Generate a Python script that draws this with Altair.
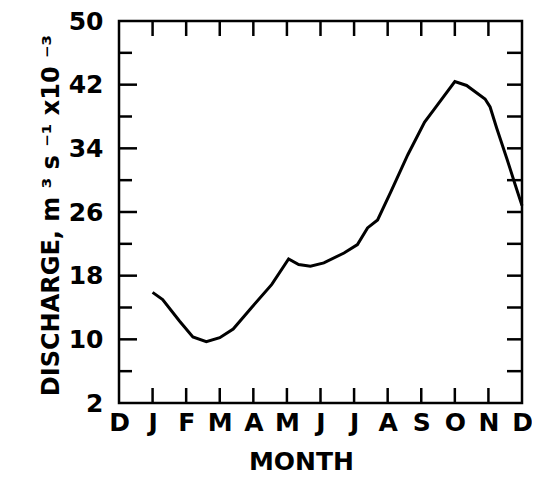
import altair as alt
import pandas as pd

# Data
month_pos = [1.0, 1.3, 1.8, 2.2, 2.6, 3.0, 3.4, 3.95, 4.55, 5.05, 5.35, 5.7, 6.1,
             6.7, 7.1, 7.4, 7.7, 8.1, 8.6, 9.1, 9.4, 10.0, 10.35, 10.9, 11.05,
             11.25, 11.55, 11.8, 12.0]
discharge = [15.9, 15.0, 12.3, 10.3, 9.7, 10.2, 11.3, 14.0, 16.9, 20.1, 19.4, 19.2, 19.6,
             20.85, 21.9, 24.0, 25.0, 28.6, 33.2, 37.3, 39.0, 42.4, 41.9, 40.2, 39.2,
             36.5, 32.7, 29.4, 26.8]

month_labels = ["D", "J", "F", "M", "A", "M", "J", "J", "A", "S", "O", "N", "D"]
month_ticks = list(range(0, 13))
inner_month_ticks = list(range(1, 12))
y_labels = [2, 10, 18, 26, 34, 42, 50]
y_major_inner = [10, 18, 26, 34, 42]
y_minor_inner = [6, 14, 22, 30, 38, 46]
y_all_inner = sorted(y_major_inner + y_minor_inner)

W, H = 403, 382
FONT = "DejaVu Sans"

line_df = pd.DataFrame({"m": month_pos, "q": discharge})
xscale = alt.Scale(domain=[0, 12], nice=False, zero=False)
yscale = alt.Scale(domain=[2, 50], nice=False, zero=False)

label_expr = "[" + ",".join('"%s"' % s for s in month_labels) + "][round(datum.value)]"

x_axis = alt.Axis(values=month_ticks, labelExpr=label_expr, ticks=False, tickSize=0,
                  domain=False, grid=False, labelFont=FONT, labelFontSize=25,
                  labelFontWeight="bold", labelColor="black", labelBaseline="alphabetic",
                  labelPadding=27, labelFlush=False, labelOverlap=False, labelBound=False,
                  title="MONTH", titleFont=FONT, titleFontSize=25, titleFontWeight="bold",
                  titleColor="black", titleX=182, titleY=66, titleBaseline="alphabetic",
                  titleAnchor="start", titleAlign="center")
y_axis = alt.Axis(values=y_labels, ticks=False, tickSize=0, domain=False, grid=False,
                  labelFont=FONT, labelFontSize=25, labelFontWeight="bold",
                  labelColor="black", labelPadding=16, labelFlush=False, labelOverlap=False,
                  labelBound=False,
                  title="DISCHARGE,  m ³  s ⁻¹  x10 ⁻³", titleFont=FONT, titleFontSize=24,
                  titleFontWeight="bold", titleColor="black", titleAngle=-90,
                  titleX=-61, titleY=194, titleAlign="center", titleBaseline="alphabetic")

line = alt.Chart(line_df).mark_line(color="black", strokeWidth=3).encode(
    x=alt.X("m:Q", scale=xscale, axis=x_axis),
    y=alt.Y("q:Q", scale=yscale, axis=y_axis),
)

ymaj = pd.DataFrame({"v": y_major_inner})
ymin = pd.DataFrame({"v": y_minor_inner})
yall = pd.DataFrame({"v": y_all_inner})
xin = pd.DataFrame({"m": inner_month_ticks})

rule = dict(color="black", strokeWidth=2.5)
left_major = alt.Chart(ymaj).mark_rule(**rule).encode(
    y=alt.Y("v:Q", scale=yscale, axis=y_axis), x=alt.value(0), x2=alt.value(18))
left_minor = alt.Chart(ymin).mark_rule(**rule).encode(
    y=alt.Y("v:Q", scale=yscale, axis=y_axis), x=alt.value(0), x2=alt.value(13))
right_ticks = alt.Chart(yall).mark_rule(**rule).encode(
    y=alt.Y("v:Q", scale=yscale, axis=y_axis), x=alt.value(W - 15), x2=alt.value(W))
bottom_ticks = alt.Chart(xin).mark_rule(**rule).encode(
    x=alt.X("m:Q", scale=xscale, axis=x_axis), y=alt.value(H - 15), y2=alt.value(H))
top_ticks = alt.Chart(xin).mark_rule(**rule).encode(
    x=alt.X("m:Q", scale=xscale, axis=x_axis), y=alt.value(0), y2=alt.value(15))

chart = alt.layer(line, left_major, left_minor, right_ticks, bottom_ticks, top_ticks).properties(
    width=W, height=H,
    background="white",
    autosize=alt.AutoSizeParams(type="none"),
    padding={"left": 111, "top": 13, "right": 10, "bottom": 71},
).configure_view(stroke="black", strokeWidth=2.5)

chart.save("out.html", embed_options={"renderer": "svg", "actions": False})
